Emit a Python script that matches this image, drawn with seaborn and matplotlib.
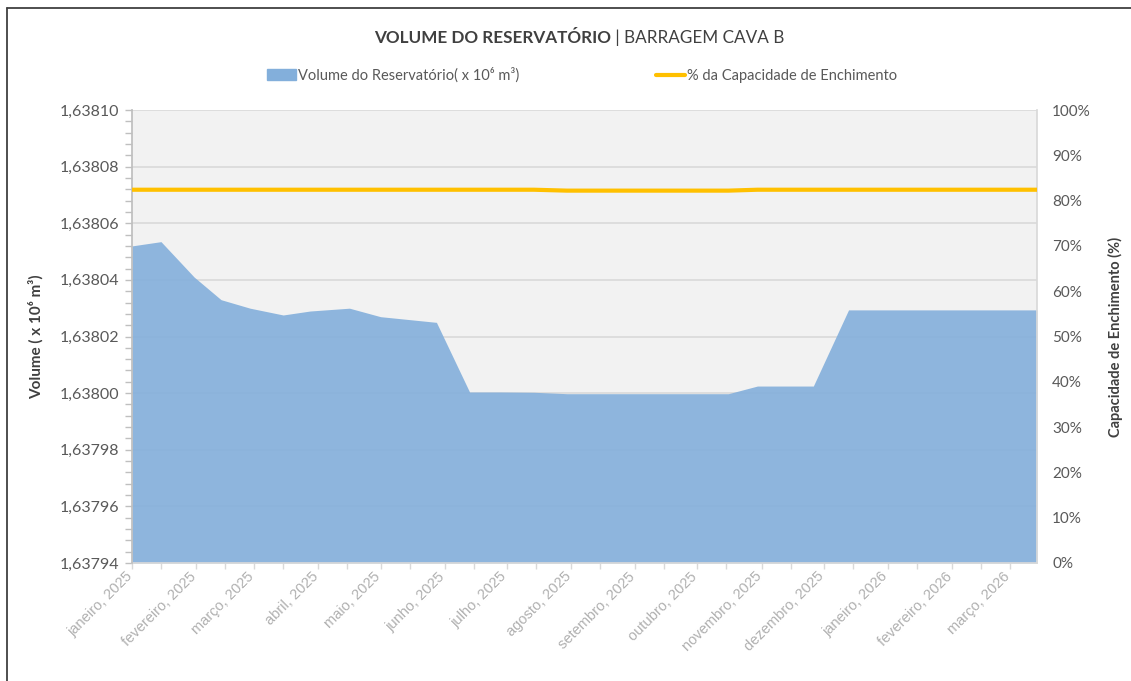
import matplotlib
matplotlib.use("Agg")
import matplotlib.pyplot as plt
import matplotlib.dates as mdates
import matplotlib.transforms as mtransforms
from matplotlib.ticker import FuncFormatter, MultipleLocator, PercentFormatter
from matplotlib.lines import Line2D
import seaborn as sns
import pandas as pd

# ---------------- data ----------------
dates = ["2025-01-01", "2025-01-15", "2025-01-31", "2025-02-13", "2025-02-27",
         "2025-03-15", "2025-03-28", "2025-04-16", "2025-05-01", "2025-05-28",
         "2025-06-13", "2025-06-28", "2025-07-14", "2025-07-30", "2025-08-14",
         "2025-08-29", "2025-09-15", "2025-09-30", "2025-10-16", "2025-10-30",
         "2025-11-26", "2025-12-13", "2025-12-29", "2026-01-14", "2026-01-29",
         "2026-02-13", "2026-02-28", "2026-03-14"]
volume = [1.638052, 1.6380535, 1.638041, 1.638033, 1.638030,
          1.6380276, 1.638029, 1.638030, 1.638027, 1.638025,
          1.6380004, 1.6380004, 1.6380003, 1.6379998, 1.6379998,
          1.6379998, 1.6379998, 1.6379998, 1.6379998, 1.6380025,
          1.6380025, 1.6380294, 1.6380294, 1.6380294, 1.6380294,
          1.6380294, 1.6380294, 1.6380294]
capacity_pct = [82.4, 82.4, 82.4, 82.4, 82.4,
                82.4, 82.4, 82.4, 82.4, 82.4,
                82.4, 82.4, 82.4, 82.2, 82.2,
                82.2, 82.2, 82.2, 82.2, 82.4,
                82.4, 82.4, 82.4, 82.4, 82.4,
                82.4, 82.4, 82.4]
month_names = ["janeiro", "fevereiro", "março", "abril", "maio", "junho", "julho",
               "agosto", "setembro", "outubro", "novembro", "dezembro"]

title_bold = "VOLUME DO RESERVATÓRIO"
title_rest = " | BARRAGEM CAVA B"
legend_area = "Volume do Reservatório( x 10⁶ m³)"
legend_line = "% da Capacidade de Enchimento"
ylabel_left = "Volume ( x 10⁶ m³)"
ylabel_right = "Capacidade de Enchimento (%)"

df = pd.DataFrame({"data": pd.to_datetime(dates), "volume": volume, "pct": capacity_pct})

# ---------------- style ----------------
sns.set_theme(style="white")
plt.rcParams["font.family"] = ["Lato", "DejaVu Sans"]

W, H = 1131, 681
fig = plt.figure(figsize=(W / 100, H / 100), dpi=100)
fig.patch.set_facecolor("white")
ax = fig.add_axes([132 / W, 1 - 563 / H, (1037 - 132) / W, (563 - 110) / H])
ax.set_facecolor("#f2f2f2")

ymin, ymax = 1.63794, 1.63810
area_color = "#83afdb"
ax.fill_between(df["data"], df["volume"], ymin, color=area_color, alpha=0.9,
                linewidth=0, zorder=2)
ax.set_ylim(ymin, ymax)

ax.yaxis.set_major_locator(MultipleLocator(0.00002))
ax.yaxis.set_minor_locator(MultipleLocator(0.000004))
ax.yaxis.set_major_formatter(FuncFormatter(lambda v, p: f"{v:.5f}".replace(".", ",")))
ax.set_axisbelow(True)
ax.grid(axis="y", which="major", color="#d9d9d9", linewidth=1.2)
for sp in ["top", "right"]:
    ax.spines[sp].set_visible(False)
ax.spines["left"].set_color("#bfbfbf")
ax.spines["bottom"].set_color("#d9d9d9")
ax.spines["left"].set_zorder(3)

ax.xaxis.set_major_locator(mdates.MonthLocator())
ax.xaxis.set_minor_locator(mdates.MonthLocator(bymonthday=15))
ax.xaxis.set_major_formatter(FuncFormatter(
    lambda v, p: f"{month_names[mdates.num2date(v).month - 1]}, {mdates.num2date(v).year}"))
ax.tick_params(axis="x", which="both", bottom=True, length=4, color="#d9d9d9", width=1,
               labelsize=10.5, labelcolor="#b0b0b0", pad=2)
ax.tick_params(axis="y", which="both", left=True, length=5, color="#bfbfbf", width=1,
               labelsize=11.5, labelcolor="#595959", pad=4)

ax.set_ylabel(ylabel_left, fontsize=11, fontweight="bold", color="#404040", labelpad=12)

ax2 = ax.twinx()
sns.lineplot(data=df, x="data", y="pct", ax=ax2, color="#ffc000", linewidth=3, zorder=4)
ax2.set_ylim(0, 100)
ax2.yaxis.set_major_locator(MultipleLocator(10))
ax2.yaxis.set_major_formatter(PercentFormatter(decimals=0))
ax2.tick_params(axis="y", right=False, length=0, labelsize=11, labelcolor="#595959", pad=11)
for sp in ["top", "left", "bottom"]:
    ax2.spines[sp].set_visible(False)
ax2.spines["right"].set_color("#d9d9d9")
ax2.set_ylabel(ylabel_right, fontsize=10.5, fontweight="bold", color="#404040", labelpad=12)
ax2.set_xlabel("")
ax.set_xlabel("")
ax.set_xlim(pd.Timestamp("2025-01-01"), pd.Timestamp("2026-03-14"))

shift = mtransforms.ScaledTranslation(-7 / 100, 2 / 100, fig.dpi_scale_trans)
for lbl in ax.get_xticklabels():
    lbl.set_rotation(45)
    lbl.set_ha("right")
    lbl.set_rotation_mode("anchor")
    lbl.set_fontfamily(["Liberation Sans", "DejaVu Sans"])
    lbl.set_transform(lbl.get_transform() + shift)

# ---------------- legend ----------------
handles = [plt.Rectangle((0, 0), 1, 1, color=area_color),
           Line2D([0], [0], color="#ffc000", linewidth=3)]
leg = fig.legend(handles, [legend_area, legend_line], loc="center", ncol=2,
                 bbox_to_anchor=(582 / W, 1 - 75 / H), frameon=False,
                 fontsize=10.5, columnspacing=9.4, handlelength=2.0, handletextpad=0.1,
                 labelcolor="#595959")

# ---------------- title ----------------
fig.canvas.draw()
r = fig.canvas.get_renderer()
t1 = fig.text(0, 1 - 38 / H, title_bold, fontsize=12.3, fontweight="bold", color="#404040",
              va="center", ha="left")
t2 = fig.text(0, 1 - 38 / H, title_rest, fontsize=12.3, color="#404040", va="center", ha="left")
w1 = t1.get_window_extent(r).width
w2 = t2.get_window_extent(r).width
x0 = 579 - (w1 + w2) / 2
t1.set_x(x0 / W)
t2.set_x((x0 + w1) / W)

# ---------------- outer border ----------------
fig.add_artist(Line2D([7 / W, 7 / W], [0, 1 - 8 / H], color="#404040", linewidth=1.3,
                      transform=fig.transFigure))
fig.add_artist(Line2D([7 / W, 1], [1 - 8 / H, 1 - 8 / H], color="#404040", linewidth=1.3,
                      transform=fig.transFigure))

fig.savefig("out.png", dpi=100)
